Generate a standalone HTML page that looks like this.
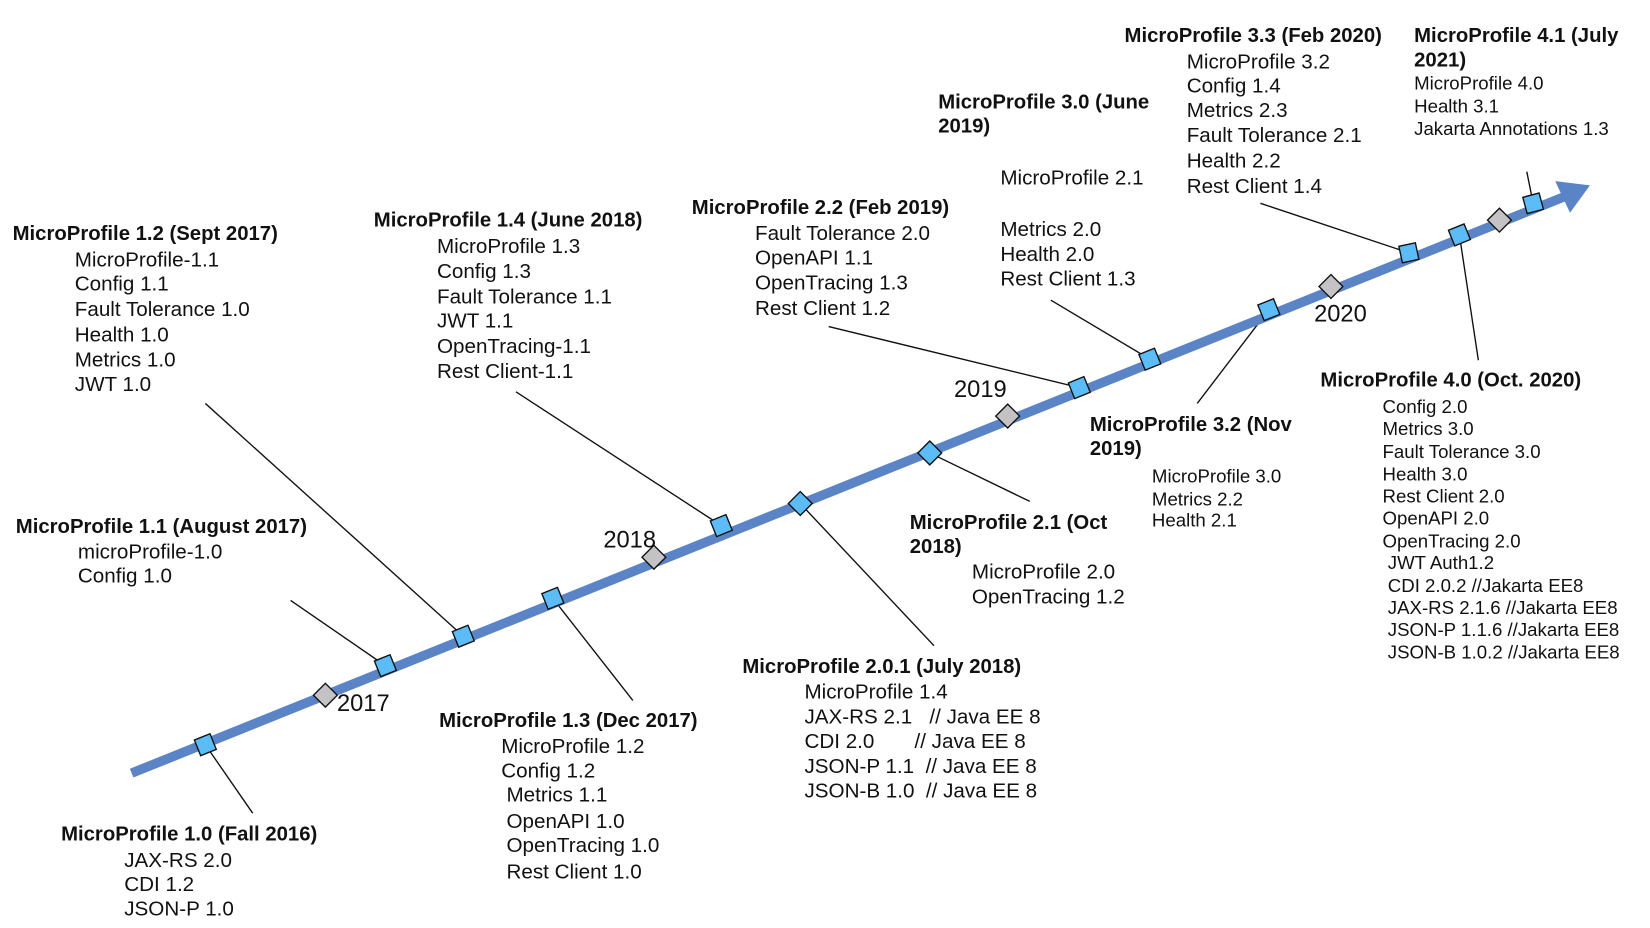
<!DOCTYPE html>
<html><head><meta charset="utf-8"><style>
html,body{margin:0;padding:0;background:#fff;}
svg{display:block;}
text{font-family:"Liberation Sans",Arial,sans-serif;font-size:19.6px;fill:#111;}
.t{font-weight:bold;font-size:19.3px;}
.s{font-size:17.7px;}
.y{font-size:22.5px;}
</style></head><body>
<svg width="1650" height="928" viewBox="0 0 1567 881" preserveAspectRatio="none" xmlns="http://www.w3.org/2000/svg">
<g stroke="#111" stroke-width="1.3">
<line x1="195" y1="707" x2="240" y2="772"/>
<line x1="276" y1="570" x2="366" y2="632"/>
<line x1="195" y1="383" x2="440" y2="604"/>
<line x1="525" y1="568" x2="601" y2="665"/>
<line x1="490" y1="372" x2="685" y2="499"/>
<line x1="760" y1="478" x2="887" y2="613"/>
<line x1="883" y1="430" x2="978" y2="476"/>
<line x1="787" y1="310" x2="1025" y2="368"/>
<line x1="998" y1="285" x2="1092" y2="341"/>
<line x1="1205" y1="294" x2="1137" y2="383"/>
<line x1="1197" y1="193" x2="1338" y2="240"/>
<line x1="1386" y1="223" x2="1404" y2="342"/>
<line x1="1450" y1="163" x2="1456" y2="193"/>
</g>
<line x1="125" y1="734" x2="1485" y2="187" stroke="#5b84c7" stroke-width="9"/>
<polygon points="1510,176 1477,172 1491,202" fill="#5b84c7"/>
<g fill="#5bbcf7" stroke="#111" stroke-width="1.3">
<rect x="-8" y="-8" width="16" height="16" transform="translate(195,707) rotate(-22)"/>
<rect x="-8" y="-8" width="16" height="16" transform="translate(366,632) rotate(-22)"/>
<rect x="-8" y="-8" width="16" height="16" transform="translate(440,604) rotate(-22)"/>
<rect x="-8" y="-8" width="16" height="16" transform="translate(525,568) rotate(-22)"/>
<rect x="-8" y="-8" width="16" height="16" transform="translate(685,499) rotate(-22)"/>
<rect x="-8" y="-8" width="16" height="16" transform="translate(760,478) rotate(45)"/>
<rect x="-8" y="-8" width="16" height="16" transform="translate(883,430) rotate(45)"/>
<rect x="-8" y="-8" width="16" height="16" transform="translate(1025,368) rotate(-22)"/>
<rect x="-8" y="-8" width="16" height="16" transform="translate(1092,341) rotate(-22)"/>
<rect x="-8" y="-8" width="16" height="16" transform="translate(1205,294) rotate(-22)"/>
<rect x="-8" y="-8" width="16" height="16" transform="translate(1338,240) rotate(-12)"/>
<rect x="-8" y="-8" width="16" height="16" transform="translate(1386,223) rotate(-22)"/>
<rect x="-8" y="-8" width="16" height="16" transform="translate(1456,193) rotate(-15)"/>
</g>
<g fill="#c4c2c4" stroke="#111" stroke-width="1.3">
<rect x="-8" y="-8" width="16" height="16" transform="translate(309,660) rotate(45)"/>
<rect x="-8" y="-8" width="16" height="16" transform="translate(621,529) rotate(45)"/>
<rect x="-8" y="-8" width="16" height="16" transform="translate(957,395) rotate(45)"/>
<rect x="-8" y="-8" width="16" height="16" transform="translate(1264,272) rotate(45)"/>
<rect x="-8" y="-8" width="16" height="16" transform="translate(1424,209) rotate(45)"/>
</g>
<text class="y" x="320" y="675">2017</text>
<text class="y" x="573" y="520">2018</text>
<text class="y" x="906" y="377">2019</text>
<text class="y" x="1248" y="305">2020</text>

<text class="t" x="12" y="228">MicroProfile 1.2 (Sept 2017)</text>
<text x="71" y="253">MicroProfile-1.1</text><text x="71" y="276">Config 1.1</text><text x="71" y="300">Fault Tolerance 1.0</text><text x="71" y="324">Health 1.0</text><text x="71" y="348">Metrics 1.0</text><text x="71" y="371">JWT 1.0</text>

<text class="t" x="15" y="506">MicroProfile 1.1 (August 2017)</text>
<text x="74" y="530">microProfile-1.0</text><text x="74" y="553">Config 1.0</text>

<text class="t" x="58" y="798">MicroProfile 1.0 (Fall 2016)</text>
<text x="118" y="823">JAX-RS 2.0</text><text x="118" y="846">CDI 1.2</text><text x="118" y="869">JSON-P 1.0</text>

<text class="t" x="417" y="690">MicroProfile 1.3 (Dec 2017)</text>
<text x="476" y="715">MicroProfile 1.2</text><text x="476" y="738">Config 1.2</text><text x="481" y="761">Metrics 1.1</text><text x="481" y="786">OpenAPI 1.0</text><text x="481" y="809">OpenTracing 1.0</text><text x="481" y="834">Rest Client 1.0</text>

<text class="t" x="355" y="215">MicroProfile 1.4 (June 2018)</text>
<text x="415" y="240">MicroProfile 1.3</text><text x="415" y="264">Config 1.3</text><text x="415" y="288">Fault Tolerance 1.1</text><text x="415" y="311">JWT 1.1</text><text x="415" y="335">OpenTracing-1.1</text><text x="415" y="359">Rest Client-1.1</text>

<text class="t" x="705" y="639">MicroProfile 2.0.1 (July 2018)</text>
<text x="764" y="663">MicroProfile 1.4</text><text x="764" y="687">JAX-RS 2.1 &#160;&#160;// Java EE 8</text><text x="764" y="710">CDI 2.0 &#160;&#160;&#160;&#160;&#160;&#160;// Java EE 8</text><text x="764" y="734">JSON-P 1.1 &#160;// Java EE 8</text><text x="764" y="757">JSON-B 1.0 &#160;// Java EE 8</text>

<text class="t" x="864" y="502">MicroProfile 2.1 (Oct</text><text class="t" x="864" y="525">2018)</text>
<text x="923" y="549">MicroProfile 2.0</text><text x="923" y="573">OpenTracing 1.2</text>

<text class="t" x="657" y="203">MicroProfile 2.2 (Feb 2019)</text>
<text x="717" y="228">Fault Tolerance 2.0</text><text x="717" y="251">OpenAPI 1.1</text><text x="717" y="275">OpenTracing 1.3</text><text x="717" y="299">Rest Client 1.2</text>

<text class="t" x="891" y="103">MicroProfile 3.0 (June</text><text class="t" x="891" y="126">2019)</text>
<text x="950" y="175">MicroProfile 2.1</text><text x="950" y="224">Metrics 2.0</text><text x="950" y="248">Health 2.0</text><text x="950" y="271">Rest Client 1.3</text>

<text class="t" x="1035" y="409">MicroProfile 3.2 (Nov</text><text class="t" x="1035" y="432">2019)</text>
<text class="s" x="1094" y="458">MicroProfile 3.0</text><text class="s" x="1094" y="480">Metrics 2.2</text><text class="s" x="1094" y="500">Health 2.1</text>

<text class="t" x="1068" y="40">MicroProfile 3.3 (Feb 2020)</text>
<text x="1127" y="65">MicroProfile 3.2</text><text x="1127" y="88">Config 1.4</text><text x="1127" y="111">Metrics 2.3</text><text x="1127" y="135">Fault Tolerance 2.1</text><text x="1127" y="159">Health 2.2</text><text x="1127" y="183">Rest Client 1.4</text>

<text class="t" x="1343" y="40">MicroProfile 4.1 (July</text><text class="t" x="1343" y="63">2021)</text>
<text class="s" x="1343" y="85">MicroProfile 4.0</text><text class="s" x="1343" y="107">Health 3.1</text><text class="s" x="1343" y="128">Jakarta Annotations 1.3</text>

<text class="t" x="1254" y="367">MicroProfile 4.0 (Oct. 2020)</text>
<text class="s" x="1313" y="392">Config 2.0</text><text class="s" x="1313" y="413">Metrics 3.0</text><text class="s" x="1313" y="435">Fault Tolerance 3.0</text><text class="s" x="1313" y="456">Health 3.0</text><text class="s" x="1313" y="477">Rest Client 2.0</text><text class="s" x="1313" y="498">OpenAPI 2.0</text><text class="s" x="1313" y="520">OpenTracing 2.0</text>
<text class="s" x="1318" y="540">JWT Auth1.2</text><text class="s" x="1318" y="562">CDI 2.0.2 //Jakarta EE8</text><text class="s" x="1318" y="583">JAX-RS 2.1.6 //Jakarta EE8</text><text class="s" x="1318" y="604">JSON-P 1.1.6 //Jakarta EE8</text><text class="s" x="1318" y="625">JSON-B 1.0.2 //Jakarta EE8</text>
</svg>
</body></html>
